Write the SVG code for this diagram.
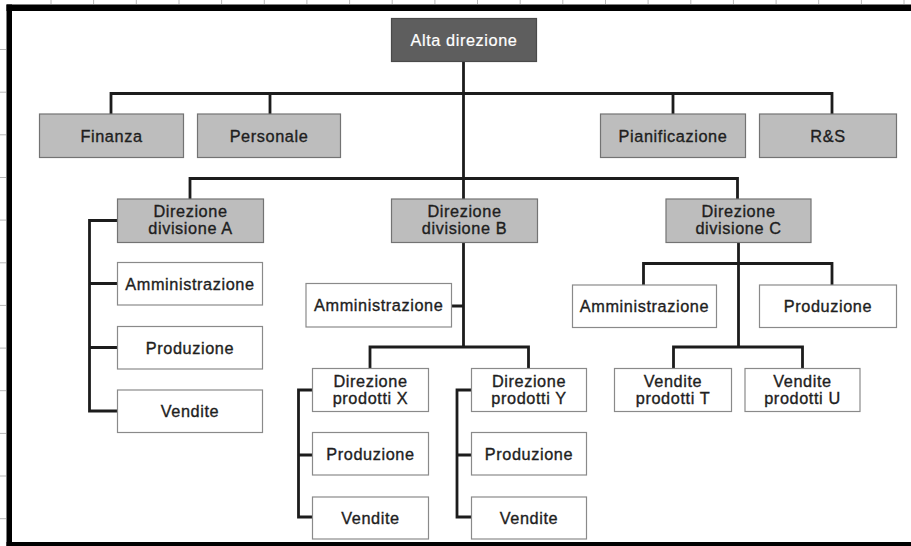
<svg xmlns="http://www.w3.org/2000/svg" width="911" height="546" viewBox="0 0 911 546">
  <style>
    .box-dark { fill: #5e5e5e; stroke: #4a4a4a; stroke-width: 1.2; }
    .box-grey { fill: #bdbdbd; stroke: #737373; stroke-width: 1.2; }
    .box-white { fill: #ffffff; stroke: #8a8a8a; stroke-width: 1.2; }
    text { font-family: "Liberation Sans", Arial, sans-serif; font-size: 16.3px; letter-spacing: 0.6px; text-anchor: middle; fill: #1e1e1e; stroke: #1e1e1e; stroke-width: 0.35; }
    text.light { fill: #ffffff; stroke: #ffffff; stroke-width: 0.2; }
    .wire { fill: none; stroke: #1c1c1c; stroke-width: 2.8; stroke-linejoin: miter; stroke-linecap: square; }
    .tick { stroke: #b8b8b8; stroke-width: 1; }
    .frame { fill: #000000; }
  </style>

  <rect width="911" height="546" fill="#ffffff"/>

  <!-- sheet grid ticks along top and left edges -->
  <g id="ticks">
    <path class="tick" d="M51 0V4M93.6 0V4M136.3 0V4M179 0V4M221.6 0V4M264.3 0V4M306.9 0V4M349.6 0V4M392.2 0V4M434.9 0V4M477.5 0V4M520.2 0V4M562.8 0V4M605.5 0V4M648.1 0V4M690.8 0V4M733.4 0V4M776.1 0V4M818.7 0V4M861.4 0V4M904 0V4"/>
    <path class="tick" d="M0 49.5H6M0 92.2H6M0 134.8H6M0 177.5H6M0 220.1H6M0 262.8H6M0 305.4H6M0 348.1H6M0 390.7H6M0 433.4H6M0 476H6M0 518.7H6"/>
  </g>

  <!-- outer frame -->
  <g id="frame">
    <rect class="frame" x="6.5" y="4.5" width="904.5" height="6.5"/>
    <rect class="frame" x="6.5" y="4.5" width="5.5" height="541.5"/>
    <rect class="frame" x="6.5" y="542" width="904.5" height="4"/>
  </g>

  <!-- connectors -->
  <g id="connectors">
    <path class="wire" d="M463.5 62V199"/>
    <path class="wire" d="M111 114V93.5H832V114M270 93.5V114M673 93.5V114"/>
    <path class="wire" d="M190 199V178.5H737.5V199"/>
    <!-- division A -->
    <path class="wire" d="M117.5 220.5H89.5V411H117.5M89.5 283.5H117.5M89.5 347.5H117.5"/>
    <!-- division B -->
    <path class="wire" d="M463.5 242.5V347M451.5 306H463.5M370 368.5V347H528.5V368.5"/>
    <path class="wire" d="M312.5 390H298.5V517H312.5M298.5 455H312.5"/>
    <path class="wire" d="M471.5 390H457V517H471.5M457 455H471.5"/>
    <!-- division C -->
    <path class="wire" d="M738.5 242.5V347M643.5 285V263.5H832V285M673.5 368.5V347H802.5V368.5"/>
  </g>

  <!-- top management -->
  <g id="alta-direzione">
    <rect class="box-dark" x="391.5" y="18.5" width="145" height="43"/>
    <text class="light" x="464" y="45.5">Alta direzione</text>
  </g>

  <!-- staff units -->
  <g id="finanza">
    <rect class="box-grey" x="39.5" y="114" width="144" height="43.5"/>
    <text x="111.5" y="142">Finanza</text>
  </g>
  <g id="personale">
    <rect class="box-grey" x="197.5" y="114" width="143" height="43.5"/>
    <text x="269" y="142">Personale</text>
  </g>
  <g id="pianificazione">
    <rect class="box-grey" x="600.5" y="114" width="145" height="43.5"/>
    <text x="673" y="142">Pianificazione</text>
  </g>
  <g id="rs">
    <rect class="box-grey" x="759.5" y="114" width="137" height="43.5"/>
    <text x="828" y="142">R&amp;S</text>
  </g>

  <!-- divisions -->
  <g id="divisione-a">
    <rect class="box-grey" x="117.5" y="199" width="146" height="43.5"/>
    <text x="190.5" y="217.3">Direzione</text>
    <text x="190.5" y="234.3">divisione A</text>
  </g>
  <g id="divisione-b">
    <rect class="box-grey" x="391.5" y="199" width="146" height="43.5"/>
    <text x="464.5" y="217.3">Direzione</text>
    <text x="464.5" y="234.3">divisione B</text>
  </g>
  <g id="divisione-c">
    <rect class="box-grey" x="666" y="199" width="145" height="43.5"/>
    <text x="738.5" y="217.3">Direzione</text>
    <text x="738.5" y="234.3">divisione C</text>
  </g>

  <!-- division A units -->
  <g id="a-amministrazione">
    <rect class="box-white" x="117.5" y="262.5" width="145" height="42.5"/>
    <text x="190" y="289.7">Amministrazione</text>
  </g>
  <g id="a-produzione">
    <rect class="box-white" x="117.5" y="326.5" width="145" height="42.5"/>
    <text x="190" y="353.7">Produzione</text>
  </g>
  <g id="a-vendite">
    <rect class="box-white" x="117.5" y="390" width="145" height="42.5"/>
    <text x="190" y="417.2">Vendite</text>
  </g>

  <!-- division B units -->
  <g id="b-amministrazione">
    <rect class="box-white" x="306" y="283.5" width="145.5" height="43.5"/>
    <text x="378.7" y="311.2">Amministrazione</text>
  </g>
  <g id="prodotti-x">
    <rect class="box-white" x="312.5" y="368.5" width="116" height="43"/>
    <text x="370.5" y="386.7">Direzione</text>
    <text x="370.5" y="404.3">prodotti X</text>
  </g>
  <g id="x-produzione">
    <rect class="box-white" x="312.5" y="432.5" width="116" height="42.5"/>
    <text x="370.5" y="459.7">Produzione</text>
  </g>
  <g id="x-vendite">
    <rect class="box-white" x="312.5" y="497" width="116" height="42"/>
    <text x="370.5" y="523.9">Vendite</text>
  </g>
  <g id="prodotti-y">
    <rect class="box-white" x="471.5" y="368.5" width="115" height="43"/>
    <text x="529" y="386.7">Direzione</text>
    <text x="529" y="404.3">prodotti Y</text>
  </g>
  <g id="y-produzione">
    <rect class="box-white" x="471.5" y="432.5" width="115" height="42.5"/>
    <text x="529" y="459.7">Produzione</text>
  </g>
  <g id="y-vendite">
    <rect class="box-white" x="471.5" y="497" width="115" height="42"/>
    <text x="529" y="523.9">Vendite</text>
  </g>

  <!-- division C units -->
  <g id="c-amministrazione">
    <rect class="box-white" x="572.5" y="285" width="144" height="42.5"/>
    <text x="644.5" y="312.2">Amministrazione</text>
  </g>
  <g id="c-produzione">
    <rect class="box-white" x="759.5" y="285" width="137" height="42.5"/>
    <text x="828" y="312.2">Produzione</text>
  </g>
  <g id="vendite-t">
    <rect class="box-white" x="614.5" y="368.5" width="117" height="43"/>
    <text x="673" y="386.7">Vendite</text>
    <text x="673" y="404.3">prodotti T</text>
  </g>
  <g id="vendite-u">
    <rect class="box-white" x="745" y="368.5" width="115" height="43"/>
    <text x="802.5" y="386.7">Vendite</text>
    <text x="802.5" y="404.3">prodotti U</text>
  </g>
</svg>
